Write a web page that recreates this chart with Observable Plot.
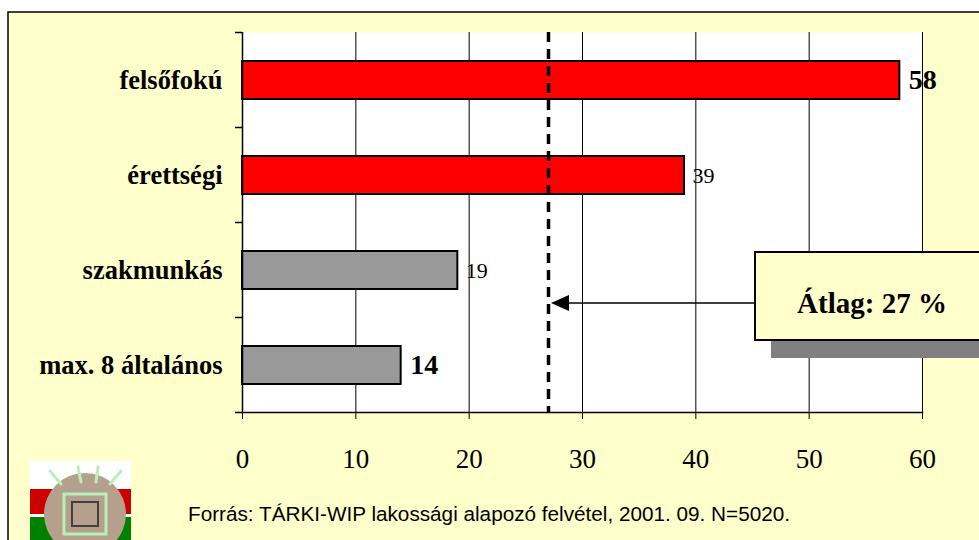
<!DOCTYPE html>
<html>
<head>
<meta charset="utf-8">
<script src="https://cdn.jsdelivr.net/npm/d3@7"></script>
<script src="https://cdn.jsdelivr.net/npm/@observablehq/plot@0.6"></script>
<style>
  html, body { margin: 0; padding: 0; background: white; }
  #chart { width: 979px; height: 540px; overflow: hidden; }
</style>
</head>
<body>
<div id="chart"></div>
<script>
// ---- data ----
const categories = ["felsőfokú", "érettségi", "szakmunkás", "max. 8 általános"];
const values = [58, 39, 19, 14];
const xTicks = [0, 10, 20, 30, 40, 50, 60];
const average = 27;
const averageLabel = "Átlag: 27 %";
const sourceText = "Forrás: TÁRKI-WIP lakossági alapozó felvétel, 2001. 09. N=5020.";

const data = categories.map((c, i) => ({cat: c, value: values[i]}));
const maxV = d3.max(values), minV = d3.min(values);
const isExtreme = d => d.value === maxV || d.value === minV;

const BG = "#FFFFCC";

const plot = Plot.plot({
  width: 979,
  height: 540,
  marginLeft: 242,
  marginRight: 57,
  marginTop: 32,
  marginBottom: 128,
  style: {background: "transparent", fontFamily: "'Liberation Serif', serif", color: "black", overflow: "visible"},
  x: {domain: [0, 60], ticks: xTicks, label: null},
  y: {domain: categories, paddingInner: 0.6, paddingOuter: 0.3, label: null},
  marks: [
    Plot.frame({fill: "white", stroke: null}),
    Plot.gridX(xTicks.slice(1), {stroke: "black", strokeOpacity: 1, strokeWidth: 1}),
    Plot.barX(data, {
      x: "value", y: "cat",
      fill: d => d.value > average ? "#FF0000" : "#999999",
      stroke: "black", strokeWidth: 2
    }),
    Plot.ruleX([average], {stroke: "black", strokeWidth: 3.5, strokeDasharray: "10,7"}),
    Plot.ruleX([0], {stroke: "black", strokeWidth: 1.5}),
    Plot.frame({anchor: "bottom", stroke: "black", strokeWidth: 1.5}),
    Plot.axisX(xTicks, {anchor: "bottom", tickSize: 7, tickPadding: 29, fontSize: 27, label: null}),
    Plot.axisY({tickSize: 0, tickPadding: 20, fontSize: 26.5, fontWeight: "bold", label: null}),
    Plot.text(data.filter(isExtreme), {
      x: "value", y: "cat", text: d => String(d.value),
      dx: 9, textAnchor: "start", fontSize: 28, fontWeight: "bold"
    }),
    Plot.text(data.filter(d => !isExtreme(d)), {
      x: "value", y: "cat", text: d => String(d.value),
      dx: 8, textAnchor: "start", fontSize: 22
    })
  ]
});

document.getElementById("chart").appendChild(plot);

const svg = d3.select(plot);
const xs = plot.scale("x");
const ys = plot.scale("y");
const x0 = xs.apply(0);

// background frame of the slide
svg.insert("rect", ":first-child")
  .attr("x", 8).attr("y", 12).attr("width", 1000).attr("height", 560)
  .attr("fill", BG).attr("stroke", "black").attr("stroke-width", 1.5);

// y-axis ticks at category boundaries
const gap = (ys.step - ys.bandwidth) / 2;
const bounds = categories.map(c => ys.apply(c) - gap);
bounds.push(ys.apply(categories[categories.length - 1]) + ys.bandwidth + gap);
const tg = svg.append("g");
bounds.forEach(b => {
  tg.append("line").attr("x1", x0 - 7).attr("x2", x0).attr("y1", b).attr("y2", b)
    .attr("stroke", "black").attr("stroke-width", 1.5);
});

// annotation
const ann = svg.append("g").attr("text-anchor", "start");
const boxX = 755, boxY = 252, boxW = 240, boxH = 88;
const arrowY = 303;
const tipX = xs.apply(average) + 3;
ann.append("rect").attr("x", boxX + 16).attr("y", boxY + 18).attr("width", boxW).attr("height", boxH)
  .attr("fill", "#808080");
ann.append("rect").attr("x", boxX).attr("y", boxY).attr("width", boxW).attr("height", boxH)
  .attr("fill", BG).attr("stroke", "black").attr("stroke-width", 2);
ann.append("text").attr("x", boxX + 117).attr("y", boxY + 61)
  .attr("text-anchor", "middle").attr("font-family", "'Liberation Serif', serif")
  .attr("font-weight", "bold").attr("font-size", 29).text(averageLabel);
ann.append("line").attr("x1", tipX + 16).attr("x2", boxX).attr("y1", arrowY).attr("y2", arrowY)
  .attr("stroke", "black").attr("stroke-width", 1.5);
ann.append("path").attr("d", `M${tipX},${arrowY} L${tipX + 18},${arrowY - 8} L${tipX + 18},${arrowY + 8} Z`)
  .attr("fill", "black");

// logo
const lg = svg.append("g");
lg.append("rect").attr("x", 30).attr("y", 461).attr("width", 101).attr("height", 79).attr("fill", "white");
lg.append("rect").attr("x", 30).attr("y", 489).attr("width", 101).attr("height", 25).attr("fill", "#CC0000");
lg.append("rect").attr("x", 30).attr("y", 517).attr("width", 101).attr("height", 23).attr("fill", "#008000");
lg.append("circle").attr("cx", 85).attr("cy", 514).attr("r", 41).attr("fill", "#B4A08C");
lg.append("rect").attr("x", 64).attr("y", 494).attr("width", 42).attr("height", 40)
  .attr("fill", "none").attr("stroke", "#B8F0B8").attr("stroke-width", 3);
lg.append("rect").attr("x", 72).attr("y", 502).attr("width", 26).attr("height", 24)
  .attr("fill", "none").attr("stroke", "#404040").attr("stroke-width", 2);
[[50, 471, 61, 484], [78, 467, 81, 482], [98, 467, 96, 482], [121, 471, 110, 484]].forEach(([a, b, c, d]) => {
  lg.append("line").attr("x1", a).attr("y1", b).attr("x2", c).attr("y2", d)
    .attr("stroke", "#B8F0B8").attr("stroke-width", 3).attr("stroke-linecap", "round");
});

// source text
svg.append("text").attr("x", 188).attr("y", 521)
  .attr("text-anchor", "start")
  .attr("font-family", "'Liberation Sans', Arial, sans-serif").attr("font-size", 20.5)
  .attr("textLength", 602).attr("lengthAdjust", "spacingAndGlyphs")
  .attr("fill", "black").text(sourceText);
</script>
</body>
</html>
